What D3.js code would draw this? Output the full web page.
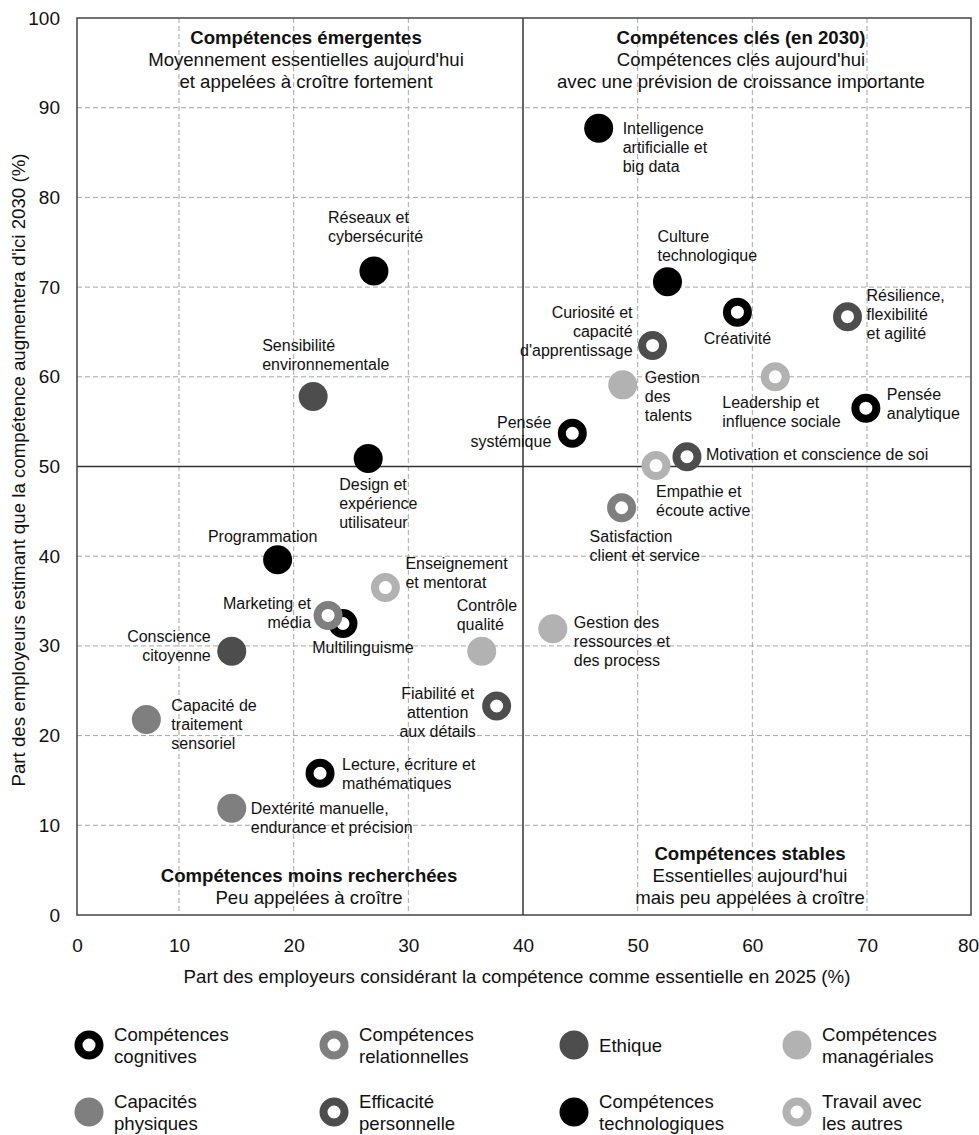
<!DOCTYPE html>
<html lang="fr">
<head>
<meta charset="utf-8">
<script src="https://cdn.jsdelivr.net/npm/d3@7"></script>
<style>
  body { margin: 0; background: #fff; }
  svg { display: block; font-family: 'Liberation Sans', Arial, sans-serif; }
</style>
</head>
<body>
<div id="chart"></div>
<script>
// --- data ---
const skills = [
  'Intelligence\nartificialle et\nbig data',
  'Réseaux et\ncybersécurité',
  'Culture\ntechnologique',
  'Créativité',
  'Résilience,\nflexibilité\net agilité',
  'Curiosité et\ncapacité\nd\'apprentissage',
  'Gestion\ndes\ntalents',
  'Leadership et\ninfluence sociale',
  'Pensée\nanalytique',
  'Sensibilité\nenvironnementale',
  'Pensée\nsystémique',
  'Design et\nexpérience\nutilisateur',
  'Empathie et\nécoute active',
  'Motivation et conscience de soi',
  'Satisfaction\nclient et service',
  'Programmation',
  'Enseignement\net mentorat',
  'Multilinguisme',
  'Marketing et\nmédia',
  'Contrôle\nqualité',
  'Gestion des\nressources et\ndes process',
  'Conscience\ncitoyenne',
  'Capacité de\ntraitement\nsensoriel',
  'Fiabilité et\nattention\naux détails',
  'Lecture, écriture et\nmathématiques',
  'Dextérité manuelle,\nendurance et précision'
];

// share of employers calling the skill essential in 2025 (%)
const essential2025 = [46.6, 27.0, 52.6, 58.7, 68.3, 51.3, 48.7, 62.0, 69.9, 21.7, 44.3, 26.5, 51.6,
  54.3, 48.6, 18.6, 28.0, 24.3, 23.0, 36.4, 42.6, 14.6, 6.8, 37.7, 22.3, 14.6];

// share of employers expecting the skill to grow by 2030 (%)
const growth2030 = [87.7, 71.8, 70.6, 67.2, 66.7, 63.5, 59.1, 60.0, 56.5, 57.8, 53.7, 50.9, 50.1,
  51.1, 45.4, 39.6, 36.5, 32.5, 33.4, 29.4, 31.9, 29.4, 21.8, 23.3, 15.8, 11.9];

const skillGroup = ['tech', 'tech', 'tech', 'cog', 'eff', 'eff', 'man', 'trav', 'cog', 'eth', 'cog', 'tech', 'trav',
  'eff', 'rel', 'tech', 'trav', 'cog', 'rel', 'man', 'man', 'eth', 'phys', 'eff', 'cog', 'phys'];

const groups = ['cog', 'rel', 'eth', 'man', 'phys', 'eff', 'tech', 'trav'];
const groupLabels = [
  'Compétences\ncognitives', 'Compétences\nrelationnelles', 'Ethique', 'Compétences\nmanagériales',
  'Capacités\nphysiques', 'Efficacité\npersonnelle', 'Compétences\ntechnologiques', 'Travail avec\nles autres'
];

const xTicks = [0, 10, 20, 30, 40, 50, 60, 70, 80];
const yTicks = [0, 10, 20, 30, 40, 50, 60, 70, 80, 90, 100];

const quadrantText = [
  ['Compétences émergentes', 'Moyennement essentielles aujourd\'hui', 'et appelées à croître fortement'],
  ['Compétences clés (en 2030)', 'Compétences clés aujourd\'hui', 'avec une prévision de croissance importante'],
  ['Compétences moins recherchées', 'Peu appelées à croître'],
  ['Compétences stables', 'Essentielles aujourd\'hui', 'mais peu appelées à croître']
];

// --- styles / layout ---
const WIDTH = 979;
const HEIGHT = 1135;

const groupStyle = {
  cog:  {colour: '#000000', ring: true},
  rel:  {colour: '#7f7f7f', ring: true},
  eth:  {colour: '#4d4d4d', ring: false},
  man:  {colour: '#b2b2b2', ring: false},
  phys: {colour: '#7f7f7f', ring: false},
  eff:  {colour: '#4d4d4d', ring: true},
  tech: {colour: '#000000', ring: false},
  trav: {colour: '#b2b2b2', ring: true}
};

// caption centre (x px) and first-line y (px) for each quadrant
const quadrantPos = [[306, 37], [741, 37], [309, 875], [750, 853]];

// label placement per skill: [anchor, dx, dy of first line]
const labelPlacement = [
  ['start', 24, 0], ['start', -46, -54], ['start', -10, -45], ['middle', 0, 26], ['start', 19, -21],
  ['end', -20, -33], ['start', 22, -7], ['start', -53, 26], ['start', 21, -14], ['start', -51, -51],
  ['end', -21, -11], ['start', -29, 26], ['start', 0, 26], ['start', 19, -2], ['start', -32, 29],
  ['middle', -15, -23], ['start', 20, -24], ['middle', 20, 24], ['end', -17, -12], ['start', -25, -46],
  ['start', 21, -6], ['end', -21, -15], ['start', 25, -14], ['middle', -59, -13], ['start', 22, -9],
  ['start', 19, 0]
];

const LINE = 19;

const svg = d3.select('#chart').append('svg')
  .attr('width', WIDTH)
  .attr('height', HEIGHT);

// the picture's x axis has its first and last intervals squeezed
const x = d3.scaleLinear().domain([0, 10, 70, 80]).range([77, 179, 867, 971]);
const y = d3.scaleLinear().domain([0, 100]).range([915, 18]);

// grid
const grid = svg.append('g');
grid.selectAll('.vgrid')
  .data(xTicks.filter(d => d > 0 && d < 80 && d !== 40))
  .join('line')
  .attr('x1', d => x(d)).attr('x2', d => x(d))
  .attr('y1', y(100)).attr('y2', y(0))
  .attr('stroke', '#a6a6a6').attr('stroke-dasharray', '5,3');

grid.selectAll('.hgrid')
  .data(yTicks.filter(d => d > 0 && d < 100 && d !== 50))
  .join('line')
  .attr('y1', d => y(d)).attr('y2', d => y(d))
  .attr('x1', x(0)).attr('x2', x(80))
  .attr('stroke', '#a6a6a6').attr('stroke-dasharray', '5,3');

// quadrant dividers
svg.append('line')
  .attr('x1', x(40)).attr('x2', x(40)).attr('y1', y(0)).attr('y2', y(100))
  .attr('stroke', '#333').attr('stroke-width', 1.5);
svg.append('line')
  .attr('x1', x(0)).attr('x2', x(80)).attr('y1', y(50)).attr('y2', y(50))
  .attr('stroke', '#333').attr('stroke-width', 1.5);

svg.append('rect')
  .attr('x', x(0)).attr('y', y(100))
  .attr('width', x(80) - x(0)).attr('height', y(0) - y(100))
  .attr('fill', 'none').attr('stroke', '#444').attr('stroke-width', 1.5);

// axes
const xAxis = svg.append('g')
  .attr('transform', `translate(0, ${y(0)})`)
  .call(d3.axisBottom(x).tickValues(xTicks).tickSize(0).tickPadding(24));
xAxis.select('.domain').remove();
xAxis.selectAll('text')
  .attr('font-size', '19px').attr('font-family', 'Liberation Sans, Arial, sans-serif').attr('fill', '#111');
xAxis.selectAll('.tick text').filter(d => d === 80).attr('dx', -3);

const yAxis = svg.append('g')
  .attr('transform', `translate(${x(0)}, 0)`)
  .call(d3.axisLeft(y).tickValues(yTicks).tickSize(0).tickPadding(17));
yAxis.select('.domain').remove();
yAxis.selectAll('text')
  .attr('font-size', '19px').attr('font-family', 'Liberation Sans, Arial, sans-serif').attr('fill', '#111');

svg.append('text')
  .attr('x', 517).attr('y', 983)
  .attr('text-anchor', 'middle')
  .attr('font-size', '18.7px').attr('fill', '#111')
  .text('Part des employeurs considérant la compétence comme essentielle en 2025 (%)');

svg.append('text')
  .attr('transform', 'translate(25, 470) rotate(-90)')
  .attr('text-anchor', 'middle')
  .attr('font-size', '18.7px').attr('fill', '#111')
  .text('Part des employeurs estimant que la compétence augmentera d\'ici 2030 (%)');

// quadrant captions
quadrantText.forEach((lines, k) => {
  const [cx, top] = quadrantPos[k];
  const t = svg.append('text')
    .attr('text-anchor', 'middle')
    .attr('font-size', '18.6px').attr('fill', '#111');
  lines.forEach((line, i) => {
    t.append('tspan')
      .attr('x', cx)
      .attr('y', top + i * 22)
      .attr('dy', '0.35em')
      .attr('font-weight', i === 0 ? 'bold' : null)
      .text(line);
  });
});

// marks
function drawMark(sel, group, cx, cy) {
  const s = groupStyle[group];
  sel.append('circle')
    .attr('cx', cx).attr('cy', cy)
    .attr('r', s.ring ? 10.5 : 14.5)
    .attr('fill', s.ring ? '#fff' : s.colour)
    .attr('stroke', s.ring ? s.colour : 'none')
    .attr('stroke-width', s.ring ? 8 : 0);
}

const points = svg.append('g');
skills.forEach((name, i) => {
  drawMark(points, skillGroup[i], x(essential2025[i]), y(growth2030[i]));
});

const labels = svg.append('g')
  .attr('font-size', '16px').attr('fill', '#111');
skills.forEach((name, i) => {
  const [anchor, dx, dy] = labelPlacement[i];
  const px = x(essential2025[i]) + dx;
  const py = y(growth2030[i]) + dy;
  const t = labels.append('text').attr('text-anchor', anchor);
  name.split('\n').forEach((line, j) => {
    t.append('tspan')
      .attr('x', px).attr('y', py + j * LINE)
      .attr('dy', '0.35em')
      .text(line);
  });
});

// legend
const legendCols = [89, 334, 574, 797];
const legendRows = [1045, 1112];
const legend = svg.append('g').attr('font-size', '18.6px').attr('fill', '#111');
groups.forEach((g, i) => {
  const lx = legendCols[i % 4];
  const ly = legendRows[Math.floor(i / 4)];
  drawMark(legend, g, lx, ly);
  const lines = groupLabels[i].split('\n');
  const t = legend.append('text');
  lines.forEach((line, j) => {
    t.append('tspan')
      .attr('x', lx + 25)
      .attr('y', ly + (j - (lines.length - 1) / 2) * 22)
      .attr('dy', '0.35em')
      .text(line);
  });
});
</script>
</body>
</html>
